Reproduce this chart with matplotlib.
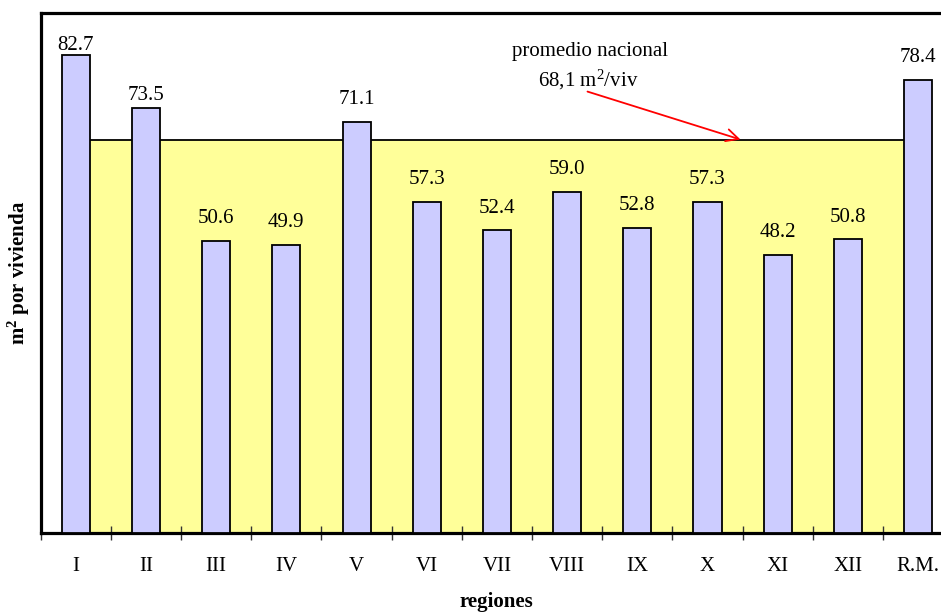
import matplotlib
matplotlib.use("Agg")
import matplotlib.pyplot as plt

plt.rcParams['font.family'] = ['Liberation Serif', 'DejaVu Serif']
plt.rcParams['mathtext.fontset'] = 'custom'
plt.rcParams['mathtext.rm'] = 'Liberation Serif'
plt.rcParams['mathtext.it'] = 'Liberation Serif:italic'
plt.rcParams['mathtext.bf'] = 'Liberation Serif:bold'

# data
regiones = ['I', 'II', 'III', 'IV', 'V', 'VI', 'VII', 'VIII', 'IX', 'X', 'XI', 'XII', 'R.M.']
m2_vivienda = [82.7, 73.5, 50.6, 49.9, 71.1, 57.3, 52.4, 59.0, 52.8, 57.3, 48.2, 50.8, 78.4]
promedio = 68.1

fig = plt.figure(figsize=(9.41, 6.12), dpi=100)
ax = fig.add_axes([40.7 / 941, 79 / 612, 912.5 / 941, 520 / 612])

x = list(range(len(regiones)))

# yellow area for the national average
ax.fill_between([x[0], x[-1]], [promedio, promedio], 0, color='#FFFF99', zorder=1)
ax.plot([x[0], x[-1]], [promedio, promedio], color='black', lw=1.3, zorder=2)

ax.bar(x, m2_vivienda, width=0.4, color='#CCCCFF', edgecolor='black', linewidth=1.3, zorder=3)

# value labels (first two are squeezed against the top in the original)
for i, v in enumerate(m2_vivienda):
    off = 16
    if i == 0:
        off = 7
    elif i == 1:
        off = 9.5
    ax.annotate(f'{v:.1f}', (i, v), xytext=(0, off), textcoords='offset points',
                ha='center', va='center', fontsize=15)

# annotation
ax.text(7.33, 83.3, 'promedio nacional', ha='center', va='center', fontsize=15)
ax.text(7.30, 78.4, r'68,1 m$^2$/viv', ha='center', va='center', fontsize=15)
ax.annotate('', xy=(9.47, promedio), xytext=(7.29, 76.4),
            arrowprops=dict(arrowstyle='->', color='red', lw=1.3,
                            mutation_scale=22, shrinkA=0, shrinkB=0))

ax.set_xlim(-0.5, len(regiones) - 0.5)
ax.set_ylim(0, 90)

# ticks at category boundaries, labels at centres
ax.set_xticks([i - 0.5 for i in range(len(regiones) + 1)])
ax.set_xticklabels([])
ax.set_xticks(x, minor=True)
ax.set_xticklabels(regiones, minor=True, fontsize=15)
ax.tick_params(axis='x', which='major', direction='inout', length=10, width=1, color='#333333')
ax.tick_params(axis='x', which='minor', length=0, pad=17)
ax.set_yticks([])

for s in ['left', 'top', 'bottom']:
    ax.spines[s].set_linewidth(2.3)
ax.spines['right'].set_visible(False)

ax.set_ylabel(r'$\mathbf{m^2}$ por vivienda', fontsize=15, fontweight='bold')
ax.yaxis.set_label_coords(-0.0095, 0.5)
ax.set_xlabel('regiones', fontsize=15, fontweight='bold')
ax.xaxis.set_label_coords(0.499, -0.113)

fig.savefig('out.png', dpi=100)
